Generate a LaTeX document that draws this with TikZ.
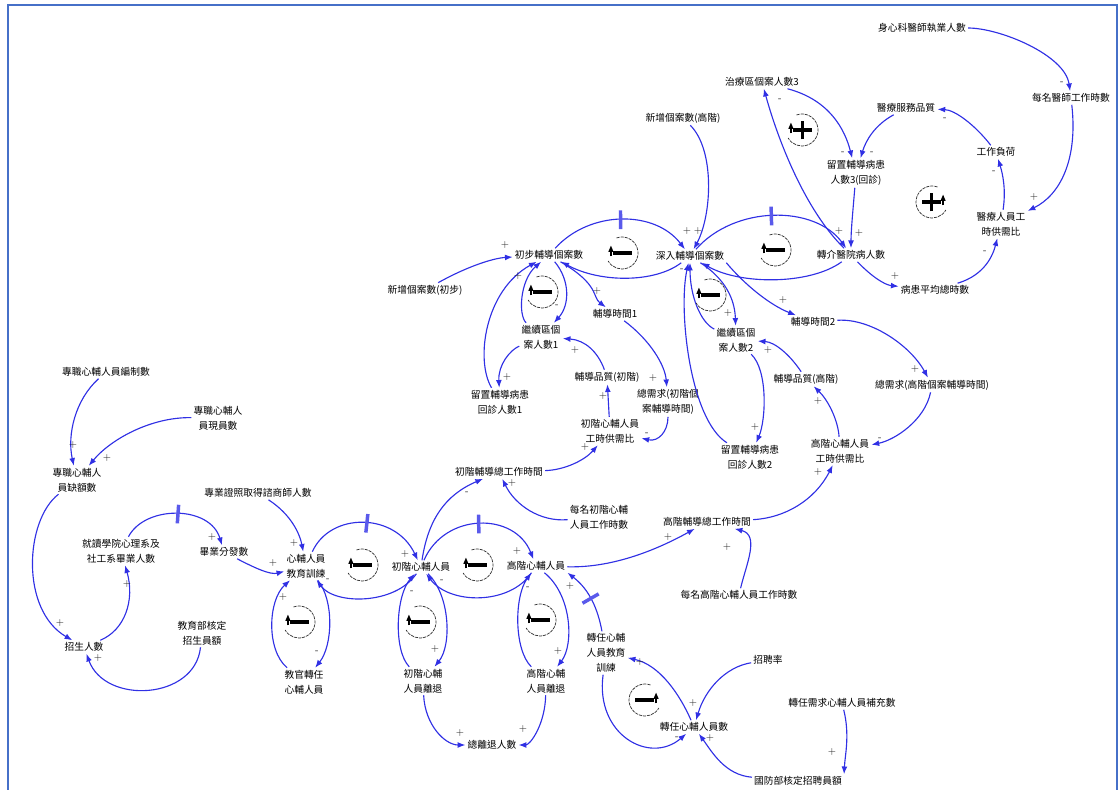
\documentclass[tikz,border=0pt]{standalone}
\usepackage{fontspec}
\newfontfamily\cjk{Noto Sans CJK TC}
\usetikzlibrary{arrows.meta,decorations.markings}
\definecolor{lnk}{RGB}{48,48,228}
\definecolor{dlyc}{RGB}{90,90,235}
\definecolor{framec}{RGB}{70,112,200}

% loop polarity marker: #1 position, #2 = 1 for "+", 0 for "-", #3 = 1 arrow on the left, -1 on the right
\newcommand\LoopMark[3]{%
  \begin{scope}[shift={#1}, xscale=#3]
    \draw[black!80, line width=0.55pt, dash pattern=on 2.4pt off 0.7pt]
      (110:12pt) arc[start angle=110, end angle=-150, radius=12pt];
    \fill[black] (-8.3pt,5.5pt) -- (-10.3pt,0.8pt) -- (-6.3pt,0.8pt) -- cycle;
    \draw[black, line width=1.1pt] (-8.3pt,-2.5pt) -- (-8.3pt,1pt);
    \draw[black, line width=2.4pt] (-6.5pt,0pt) -- (7.5pt,0pt);
    \ifnum#2=1 \draw[black, line width=2pt] (0.5pt,-7pt) -- (0.5pt,7pt);\fi
  \end{scope}}

\begin{document}
\begin{tikzpicture}[x=0.75pt,y=-0.75pt,
  lbl/.style={font=\cjk\fontsize{7.3}{11.2}\selectfont, align=center, inner sep=1.5pt, text=black},
  sg/.style={font=\fontsize{7.5}{7.5}\selectfont, inner sep=0pt, text=black!85},
  lk/.style={draw=lnk, line width=0.85pt, -{Latex[length=5.8pt,width=4.4pt]}},
  dly/.style={postaction={decorate,decoration={markings,mark=at position #1 with {\draw[dlyc,line width=2.6pt,arrows=-] (0pt,-7pt)--(0pt,7pt);}}}},
]
\useasboundingbox (0,0) rectangle (1120,789);
\draw[framec, line width=1.5pt] (8,790) -- (8,5) -- (1117,5) -- (1117,790);

% ---------- hospital sector ----------
\node[lbl] (n1) at (922,28) {身心科醫師執業人數};
\node[lbl] (n2) at (1071,98) {每名醫師工作時數};
\node[lbl] (n3) at (762,82) {治療區個案人數3};
\node[lbl] (n4) at (906,108) {醫療服務品質};
\node[lbl] (n5) at (996,152) {工作負荷};
\node[lbl] (n6) at (856,173) {留置輔導病患\\人數3(回診)};
\node[lbl] (n7) at (1001,224) {醫療人員工\\時供需比};
\node[lbl] (n8) at (851,255) {轉介醫院病人數};
\node[lbl] (n9) at (935,290) {病患平均總時數};

% ---------- case load sector ----------
\node[lbl] (m1) at (683,118) {新增個案數(高階)};
\node[lbl] (m2) at (549,255) {初步輔導個案數};
\node[lbl] (m3) at (690,256) {深入輔導個案數};
\node[lbl] (m4) at (425,290) {新增個案數(初步)};
\node[lbl] (m5) at (541,337) {繼續區個\\案人數1};
\node[lbl] (m6) at (615,314) {輔導時間1};
\node[lbl] (m7) at (500,402) {留置輔導病患\\回診人數1};
\node[lbl] (m8) at (607,377) {輔導品質(初階)};
\node[lbl] (m9) at (668,402) {總需求(初階個\\案輔導時間)};
\node[lbl] (m10) at (610,431) {初階心輔人員\\工時供需比};
\node[lbl] (m11) at (499,472) {初階輔導總工作時間};
\node[lbl] (m12) at (736,340) {繼續區個\\案人數2};
\node[lbl] (m13) at (813,322) {輔導時間2};
\node[lbl] (m14) at (806,379) {輔導品質(高階)};
\node[lbl] (m15) at (932,385) {總需求(高階個案輔導時間)};
\node[lbl] (m16) at (750,457) {留置輔導病患\\回診人數2};
\node[lbl] (m17) at (840,451) {高階心輔人員\\工時供需比};
\node[lbl] (m18) at (599,517) {每名初階心輔\\人員工作時數};
\node[lbl] (m19) at (707,522) {高階輔導總工作時間};
\node[lbl] (m20) at (739,595) {每名高階心輔人員工作時數};

% ---------- staffing sector ----------
\node[lbl] (b1) at (106,372) {專職心輔人員編制數};
\node[lbl] (b2) at (218,418) {專職心輔人\\員現員數};
\node[lbl] (b3) at (77,480) {專職心輔人\\員缺額數};
\node[lbl] (b4) at (258,493) {專業證照取得諮商師人數};
\node[lbl] (b5) at (121,551) {就讀學院心理系及\\社工系畢業人數};
\node[lbl] (b6) at (224,552) {畢業分發數};
\node[lbl] (b7) at (306,566) {心輔人員\\教育訓練};
\node[lbl] (b8) at (84,647) {招生人數};
\node[lbl] (b9) at (202,633) {教育部核定\\招生員額};
\node[lbl] (b10) at (304,682) {教官轉任\\心輔人員};
\node[lbl] (b11) at (421,567) {初階心輔人員};
\node[lbl] (b12) at (536,566) {高階心輔人員};
\node[lbl] (b13) at (423,681) {初階心輔\\人員離退};
\node[lbl] (b14) at (546,681) {高階心輔\\人員離退};
\node[lbl] (b15) at (492,745) {總離退人數};
\node[lbl] (b16) at (606,653) {轉任心輔\\人員教育\\訓練};
\node[lbl] (b17) at (768,660) {招聘率};
\node[lbl] (b18) at (842,703) {轉任需求心輔人員補充數};
\node[lbl] (b19) at (694,727) {轉任心輔人員數};
\node[lbl] (b20) at (798,781) {國防部核定招聘員額};

% ---------- links: hospital sector ----------
\draw[lk] (n1) .. controls (1000,28) and (1065,55) .. (n2);
\draw[lk] (n2) .. controls (1078,160) and (1060,195) .. (n7);
\draw[lk] (n7) .. controls (1006,190) and (1003,175) .. (n5);
\draw[lk] (n5) .. controls (975,125) and (955,110) .. (n4);
\draw[lk] (n4) .. controls (875,125) and (866,140) .. (n6);
\draw[lk] (n3) .. controls (830,100) and (845,130) .. (n6);
\draw[lk] (n6) .. controls (853,210) and (851,230) .. (n8);
\draw[lk] (n8) .. controls (805,210) and (778,140) .. (n3);
\draw[lk, dly=0.5] (m3) .. controls (735,205) and (815,205) .. (n8);
\draw[lk] (n8) .. controls (810,285) and (740,285) .. (m3);
\draw[lk] (n8) .. controls (872,277) and (885,285) .. (n9);
\draw[lk] (n9) .. controls (985,275) and (993,255) .. (n7);

% ---------- links: case load sector ----------
\draw[lk] (m1) .. controls (715,150) and (712,215) .. (m3);
\draw[lk, dly=0.5] (m2) .. controls (590,210) and (655,210) .. (m3);
\draw[lk] (m3) .. controls (655,283) and (600,283) .. (m2);
\draw[lk] (m4) .. controls (470,265) and (495,258) .. (m2);
\draw[lk] (m2) .. controls (570,280) and (570,305) .. (m5);
\draw[lk] (m5) .. controls (518,315) and (520,280) .. (m2);
\draw[lk] (m2) .. controls (600,285) and (592,297) .. (m6);
\draw[lk] (m6) .. controls (650,340) and (665,365) .. (m9);
\draw[lk] (m9) .. controls (668,432) and (658,442) .. (m10);
\draw[lk] (m10) -- (m8);
\draw[lk] (m8) .. controls (598,352) and (585,340) .. (m5);
\draw[lk] (m5) .. controls (510,350) and (498,365) .. (m7);
\draw[lk] (m7) .. controls (475,360) and (485,290) .. (m2);
\draw[lk] (m3) .. controls (730,282) and (735,305) .. (m12);
\draw[lk] (m12) .. controls (700,322) and (690,295) .. (m3);
\draw[lk] (m3.south east) .. controls (745,285) and (770,305) .. (m13);
\draw[lk] (m13) .. controls (870,318) and (910,345) .. (m15);
\draw[lk] (m15) .. controls (925,420) and (895,440) .. (m17);
\draw[lk] (m17) .. controls (838,420) and (828,400) .. (m14);
\draw[lk] (m14) .. controls (790,355) and (775,342) .. (m12);
\draw[lk] (m12) .. controls (768,370) and (766,420) .. (m16);
\draw[lk] (m16) .. controls (690,420) and (678,310) .. (m3);
\draw[lk] (m11) .. controls (565,470) and (585,460) .. (m10);
\draw[lk] (m18) .. controls (540,522) and (515,505) .. (m11);
\draw[lk] (m19) .. controls (785,518) and (815,500) .. (m17);
\draw[lk] (m20) .. controls (746,565) and (760,535) .. (m19);

% ---------- links: staffing sector ----------
\draw[lk] (b1) .. controls (75,400) and (67,435) .. (b3);
\draw[lk] (b2) .. controls (150,417) and (110,440) .. (b3);
\draw[lk] (b3) .. controls (25,520) and (20,610) .. (b8);
\draw[lk] (b8) .. controls (125,630) and (135,600) .. (b5);
\draw[lk] (b9) .. controls (195,700) and (105,705) .. (b8);
\draw[lk, dly=0.5] (b5) .. controls (145,505) and (210,505) .. (b6);
\draw[lk] (b6) .. controls (255,568) and (270,575) .. (b7);
\draw[lk] (b4) .. controls (292,515) and (300,535) .. (b7);
\draw[lk] (b7) .. controls (334,600) and (333,645) .. (b10);
\draw[lk] (b10) .. controls (266,650) and (268,600) .. (b7);
\draw[lk, dly=0.5] (b7) .. controls (330,512) and (395,512) .. (b11);
\draw[lk] (b11) .. controls (395,605) and (335,605) .. (b7);
\draw[lk, dly=0.5] (b11) .. controls (445,512) and (515,512) .. (b12);
\draw[lk] (b12) .. controls (510,605) and (450,605) .. (b11);
\draw[lk] (b11) .. controls (428,520) and (445,495) .. (m11);
\draw[lk] (b11) .. controls (450,595) and (452,645) .. (b13);
\draw[lk] (b13) .. controls (393,650) and (396,595) .. (b11);
\draw[lk] (b12) .. controls (572,595) and (574,645) .. (b14);
\draw[lk] (b14) .. controls (514,650) and (514,597) .. (b12);
\draw[lk] (b13) .. controls (425,725) and (445,745) .. (b15);
\draw[lk] (b14) .. controls (545,725) and (530,745) .. (b15);
\draw[lk] (b12) .. controls (615,568) and (660,548) .. (m19);
\draw[lk, dly=0.5] (b16) .. controls (598,610) and (590,590) .. (b12.south east);
\draw[lk] (b19) .. controls (680,695) and (660,665) .. (b16);
\draw[lk] (b16) .. controls (595,735) and (650,765) .. (b19);
\draw[lk] (b17) .. controls (725,667) and (705,690) .. (b19);
\draw[lk] (b20) .. controls (725,775) and (712,752) .. (b19);
\draw[lk] (b18) .. controls (850,735) and (845,755) .. (b20.north east);

% ---------- loop polarity markers ----------
\LoopMark{(802,130)}{1}{1}
\LoopMark{(932,202)}{1}{-1}
\LoopMark{(622,253)}{0}{1}
\LoopMark{(775,250)}{0}{1}
\LoopMark{(542,292)}{0}{1}
\LoopMark{(710,295)}{0}{1}
\LoopMark{(362,565)}{0}{1}
\LoopMark{(477,565)}{0}{1}
\LoopMark{(299,622)}{0}{1}
\LoopMark{(420,622)}{0}{1}
\LoopMark{(540,620)}{0}{1}
\LoopMark{(645,700)}{0}{-1}

% ---------- link polarities ----------
\node[sg] (s1) at (1062,83) {-};
\node[sg] (s2) at (1034,197) {+};
\node[sg] (s3) at (994,172) {-};
\node[sg] (s4) at (945,119) {-};
\node[sg] (s5) at (872,153) {-};
\node[sg] (s6) at (843,153) {-};
\node[sg] (s7) at (859,233) {+};
\node[sg] (s8) at (839,231) {+};
\node[sg] (s9) at (780,100) {-};
\node[sg] (s10) at (895,276) {+};
\node[sg] (s11) at (985,252) {-};
\node[sg] (s12) at (687,231) {+};
\node[sg] (s13) at (698,231) {+};
\node[sg] (s14) at (505,245) {+};
\node[sg] (s15) at (518,276) {+};
\node[sg] (s16) at (597,291) {+};
\node[sg] (s17) at (557,306) {-};
\node[sg] (s18) at (575,350) {+};
\node[sg] (s19) at (507,377) {+};
\node[sg] (s20) at (653,378) {+};
\node[sg] (s21) at (603,396) {+};
\node[sg] (s22) at (647,434) {-};
\node[sg] (s23) at (585,447) {+};
\node[sg] (s24) at (728,313) {+};
\node[sg] (s25) at (783,300) {+};
\node[sg] (s26) at (768,350) {+};
\node[sg] (s27) at (915,369) {+};
\node[sg] (s28) at (818,401) {+};
\node[sg] (s29) at (755,427) {+};
\node[sg] (s30) at (880,439) {-};
\node[sg] (s31) at (818,472) {+};
\node[sg] (s32) at (73,445) {+};
\node[sg] (s33) at (107,458) {+};
\node[sg] (s34) at (212,537) {+};
\node[sg] (s35) at (294,543) {+};
\node[sg] (s36) at (273,563) {+};
\node[sg] (s37) at (127,584) {+};
\node[sg] (s38) at (283,597) {+};
\node[sg] (s39) at (60,623) {+};
\node[sg] (s40) at (98,658) {+};
\node[sg] (s41) at (317,652) {-};
\node[sg] (s42) at (328,580) {-};
\node[sg] (s43) at (405,554) {+};
\node[sg] (s44) at (412,592) {-};
\node[sg] (s45) at (442,581) {-};
\node[sg] (s46) at (435,649) {+};
\node[sg] (s47) at (517,551) {+};
\node[sg] (s48) at (528,588) {-};
\node[sg] (s49) at (570,586) {+};
\node[sg] (s50) at (558,651) {+};
\node[sg] (s51) at (460,733) {+};
\node[sg] (s52) at (523,729) {+};
\node[sg] (s53) at (467,493) {-};
\node[sg] (s54) at (512,483) {+};
\node[sg] (s55) at (668,537) {+};
\node[sg] (s56) at (727,547) {+};
\node[sg] (s57) at (640,662) {+};
\node[sg] (s58) at (693,703) {+};
\node[sg] (s59) at (677,738) {-};
\node[sg] (s60) at (710,738) {+};
\node[sg] (s61) at (832,752) {+};
\node[sg] (s62) at (682,270) {-};
\end{tikzpicture}
\end{document}
